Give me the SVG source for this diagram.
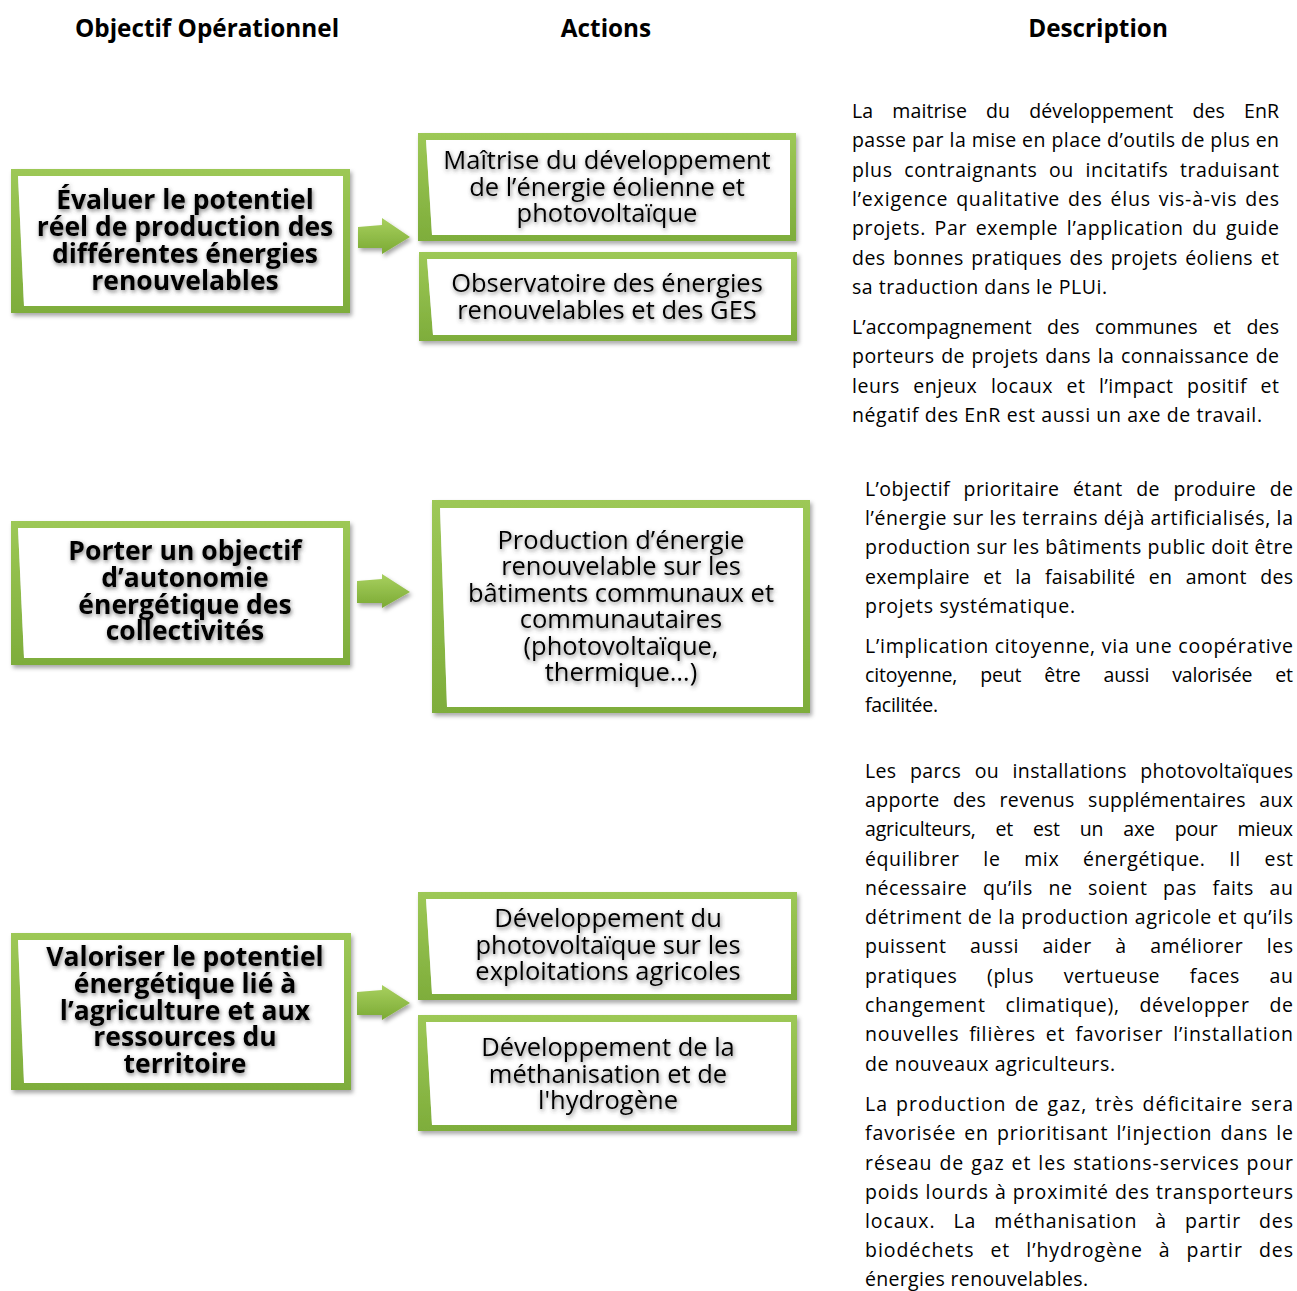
<svg xmlns="http://www.w3.org/2000/svg" width="1297" height="1291" viewBox="0 0 1297 1291">
<defs>
<linearGradient id="gFrame" x1="0" y1="0" x2="0" y2="1">
<stop offset="0" stop-color="#9DC856"/>
<stop offset="1" stop-color="#7EAD3B"/>
</linearGradient>
<linearGradient id="gArrow" x1="0" y1="0" x2="0" y2="1">
<stop offset="0" stop-color="#A8D05F"/>
<stop offset="1" stop-color="#7BAA34"/>
</linearGradient>
<filter id="boxShadow" x="-5%" y="-10%" width="115%" height="130%">
<feDropShadow dx="2" dy="3" stdDeviation="2" flood-color="#000" flood-opacity="0.35"/>
</filter>
<filter id="textGlow" x="-5%" y="-20%" width="110%" height="150%">
<feGaussianBlur in="SourceAlpha" stdDeviation="2" result="b"/>
<feOffset in="b" dx="1" dy="2" result="o"/>
<feFlood flood-color="#444" flood-opacity="0.7"/>
<feComposite in2="o" operator="in" result="s"/>
<feMerge><feMergeNode in="s"/><feMergeNode in="SourceGraphic"/></feMerge>
</filter>
</defs>
<style>
.hdr{font-family:"Open Sans","Liberation Sans",sans-serif;font-weight:bold;font-size:24.3px;fill:#000;text-anchor:middle}
.obj{font-family:"Open Sans","Liberation Sans",sans-serif;font-weight:bold;font-size:26.5px;fill:#000;text-anchor:middle}
.act{font-family:"Open Sans","Liberation Sans",sans-serif;font-size:25.5px;fill:#000;text-anchor:middle}
.desc{font-family:"Open Sans","Liberation Sans",sans-serif;font-size:19.5px;fill:#000}
.frame{fill:url(#gFrame);fill-rule:evenodd}
.inner{fill:#fff}
.arrow{fill:url(#gArrow)}
</style>

<g id="headers">
<text class="hdr" x="207" y="37">Objectif Opérationnel</text>
<text class="hdr" x="606" y="37">Actions</text>
<text class="hdr" x="1098" y="37">Description</text>
</g>

<g id="obj1">
<g filter="url(#boxShadow)">
<path class="frame" d="M11 169H350V313H11Z M18 176H343V306H24Z"/>
</g>
<path class="inner" d="M18 176H343V306H24Z"/>
<g class="obj" filter="url(#textGlow)">
<text x="185" y="209">Évaluer le potentiel</text>
<text x="185" y="236">réel de production des</text>
<text x="185" y="263">différentes énergies</text>
<text x="185" y="290">renouvelables</text>
</g>
</g>

<g id="obj2">
<g filter="url(#boxShadow)">
<path class="frame" d="M11 521H350V665H11Z M18 528H343V658H24Z"/>
</g>
<path class="inner" d="M18 528H343V658H24Z"/>
<g class="obj" filter="url(#textGlow)">
<text x="185" y="560">Porter un objectif</text>
<text x="185" y="587">d’autonomie</text>
<text x="185" y="614">énergétique des</text>
<text x="185" y="640">collectivités</text>
</g>
</g>

<g id="obj3">
<g filter="url(#boxShadow)">
<path class="frame" d="M11 933H351V1090H11Z M18 940H344V1083H24Z"/>
</g>
<path class="inner" d="M18 940H344V1083H24Z"/>
<g class="obj" filter="url(#textGlow)">
<text x="185" y="966">Valoriser le potentiel</text>
<text x="185" y="993">énergétique lié à</text>
<text x="185" y="1020">l’agriculture et aux</text>
<text x="185" y="1046">ressources du</text>
<text x="185" y="1073">territoire</text>
</g>
</g>

<g id="act1">
<g filter="url(#boxShadow)">
<path class="frame" d="M418 133H796V241H418Z M426 140H790V235H432Z"/>
</g>
<path class="inner" d="M426 140H790V235H432Z"/>
<g class="act" filter="url(#textGlow)">
<text x="607" y="169">Maîtrise du développement</text>
<text x="607" y="196">de l’énergie éolienne et</text>
<text x="607" y="222">photovoltaïque</text>
</g>
</g>

<g id="act2">
<g filter="url(#boxShadow)">
<path class="frame" d="M419 252H797V341H419Z M427 259H791V335H433Z"/>
</g>
<path class="inner" d="M427 259H791V335H433Z"/>
<g class="act" filter="url(#textGlow)">
<text x="607" y="292">Observatoire des énergies</text>
<text x="607" y="319">renouvelables et des GES</text>
</g>
</g>

<g id="act3">
<g filter="url(#boxShadow)">
<path class="frame" d="M432 500H810V713H432Z M440 508H803V707H447Z"/>
</g>
<path class="inner" d="M440 508H803V707H447Z"/>
<g class="act" filter="url(#textGlow)">
<text x="621" y="549">Production d’énergie</text>
<text x="621" y="575">renouvelable sur les</text>
<text x="621" y="602">bâtiments communaux et</text>
<text x="621" y="628">communautaires</text>
<text x="621" y="655">(photovoltaïque,</text>
<text x="621" y="681">thermique…)</text>
</g>
</g>

<g id="act4">
<g filter="url(#boxShadow)">
<path class="frame" d="M418 892H797V1000H418Z M426 899H791V994H432Z"/>
</g>
<path class="inner" d="M426 899H791V994H432Z"/>
<g class="act" filter="url(#textGlow)">
<text x="608" y="927">Développement du</text>
<text x="608" y="954">photovoltaïque sur les</text>
<text x="608" y="980">exploitations agricoles</text>
</g>
</g>

<g id="act5">
<g filter="url(#boxShadow)">
<path class="frame" d="M418 1015H797V1131H418Z M426 1022H791V1125H432Z"/>
</g>
<path class="inner" d="M426 1022H791V1125H432Z"/>
<g class="act" filter="url(#textGlow)">
<text x="608" y="1056">Développement de la</text>
<text x="608" y="1083">méthanisation et de</text>
<text x="608" y="1109">l'hydrogène</text>
</g>
</g>

<g id="connectors" filter="url(#boxShadow)">
<path class="arrow" d="M358 227L382 225V218L410 237L382 254V248H358Z"/>
<path class="arrow" d="M357 581L382 579V574L410 592L382 608V603H357Z"/>
<path class="arrow" d="M357 992L382 990V985L410 1003L382 1020V1015H357Z"/>
</g>

<g id="desc1" class="desc">
<text x="852" y="118" textLength="427" lengthAdjust="spacing" style="word-spacing:14px">La maitrise du développement des EnR</text>
<text x="852" y="147" textLength="427" lengthAdjust="spacing">passe par la mise en place d’outils de plus en</text>
<text x="852" y="177" textLength="427" lengthAdjust="spacing" style="word-spacing:6px">plus contraignants ou incitatifs traduisant</text>
<text x="852" y="206" textLength="427" lengthAdjust="spacing" style="word-spacing:2px">l’exigence qualitative des élus vis-à-vis des</text>
<text x="852" y="235" textLength="427" lengthAdjust="spacing" style="word-spacing:3px">projets. Par exemple l’application du guide</text>
<text x="852" y="265" textLength="427" lengthAdjust="spacing" style="word-spacing:2px">des bonnes pratiques des projets éoliens et</text>
<text x="852" y="294" textLength="255" lengthAdjust="spacing">sa traduction dans le PLUi.</text>
<text x="852" y="334" textLength="427" lengthAdjust="spacing" style="word-spacing:10px">L’accompagnement des communes et des</text>
<text x="852" y="363" textLength="427" lengthAdjust="spacing" style="word-spacing:1px">porteurs de projets dans la connaissance de</text>
<text x="852" y="393" textLength="427" lengthAdjust="spacing" style="word-spacing:8px">leurs enjeux locaux et l’impact positif et</text>
<text x="852" y="422" textLength="410" lengthAdjust="spacing">négatif des EnR est aussi un axe de travail.</text>
</g>

<g id="desc2" class="desc">
<text x="865" y="496" textLength="428" lengthAdjust="spacing" style="word-spacing:8px">L’objectif prioritaire étant de produire de</text>
<text x="865" y="525" textLength="428" lengthAdjust="spacing">l’énergie sur les terrains déjà artificialisés, la</text>
<text x="865" y="554" textLength="428" lengthAdjust="spacing">production sur les bâtiments public doit être</text>
<text x="865" y="584" textLength="428" lengthAdjust="spacing" style="word-spacing:8px">exemplaire et la faisabilité en amont des</text>
<text x="865" y="613" textLength="210" lengthAdjust="spacing">projets systématique.</text>
<text x="865" y="653" textLength="428" lengthAdjust="spacing">L’implication citoyenne, via une coopérative</text>
<text x="865" y="682" textLength="428" lengthAdjust="spacing" style="word-spacing:18px">citoyenne, peut être aussi valorisée et</text>
<text x="865" y="712" textLength="73" lengthAdjust="spacing">facilitée.</text>
</g>

<g id="desc3" class="desc">
<text x="865" y="778" textLength="428" lengthAdjust="spacing" style="word-spacing:8px">Les parcs ou installations photovoltaïques</text>
<text x="865" y="807" textLength="428" lengthAdjust="spacing" style="word-spacing:8px">apporte des revenus supplémentaires aux</text>
<text x="865" y="836" textLength="428" lengthAdjust="spacing" style="word-spacing:15px">agriculteurs, et est un axe pour mieux</text>
<text x="865" y="866" textLength="428" lengthAdjust="spacing" style="word-spacing:18px">équilibrer le mix énergétique. Il est</text>
<text x="865" y="895" textLength="428" lengthAdjust="spacing" style="word-spacing:10px">nécessaire qu’ils ne soient pas faits au</text>
<text x="865" y="924" textLength="428" lengthAdjust="spacing">détriment de la production agricole et qu’ils</text>
<text x="865" y="953" textLength="428" lengthAdjust="spacing" style="word-spacing:18px">puissent aussi aider à améliorer les</text>
<text x="865" y="983" textLength="428" lengthAdjust="spacing" style="word-spacing:24px">pratiques (plus vertueuse faces au</text>
<text x="865" y="1012" textLength="428" lengthAdjust="spacing" style="word-spacing:14px">changement climatique), développer de</text>
<text x="865" y="1041" textLength="428" lengthAdjust="spacing" style="word-spacing:4px">nouvelles filières et favoriser l’installation</text>
<text x="865" y="1071" textLength="250" lengthAdjust="spacing">de nouveaux agriculteurs.</text>
<text x="865" y="1111" textLength="428" lengthAdjust="spacing" style="word-spacing:2px">La production de gaz, très déficitaire sera</text>
<text x="865" y="1140" textLength="428" lengthAdjust="spacing" style="word-spacing:2px">favorisée en prioritisant l’injection dans le</text>
<text x="865" y="1170" textLength="428" lengthAdjust="spacing" style="word-spacing:1px">réseau de gaz et les stations-services pour</text>
<text x="865" y="1199" textLength="428" lengthAdjust="spacing">poids lourds à proximité des transporteurs</text>
<text x="865" y="1228" textLength="428" lengthAdjust="spacing" style="word-spacing:12px">locaux. La méthanisation à partir des</text>
<text x="865" y="1257" textLength="428" lengthAdjust="spacing" style="word-spacing:10px">biodéchets et l’hydrogène à partir des</text>
<text x="865" y="1286" textLength="223" lengthAdjust="spacing">énergies renouvelables.</text>
</g>
</svg>
